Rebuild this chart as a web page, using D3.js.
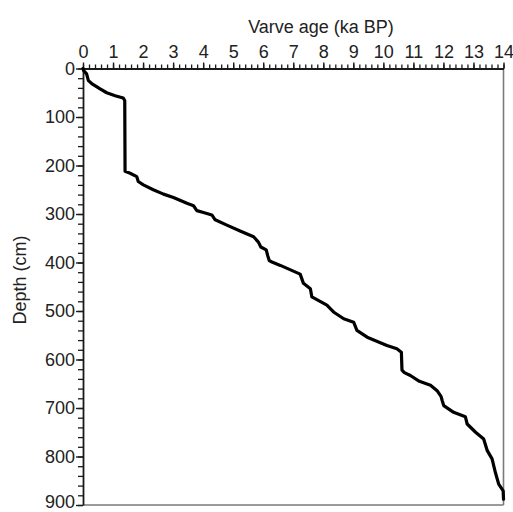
<!DOCTYPE html>
<html>
<head>
<meta charset="utf-8">
<script src="https://cdn.jsdelivr.net/npm/d3@7"></script>
<style>
  html, body { margin: 0; padding: 0; background: #fff; }
  text { font-family: Arial, "Liberation Sans", sans-serif; }
</style>
</head>
<body>
<svg id="chart" width="513" height="512"></svg>
<script>
// ---- data ----
const ages = [0, 0.02, 0.12, 0.18, 0.29, 0.57, 0.79, 1.07, 1.34, 1.39, 1.40, 1.57, 1.79, 1.84, 2.01, 2.34, 2.68, 3.01, 3.46, 3.68, 3.79, 4.01, 4.29, 4.40, 4.79, 5.23, 5.68, 5.84, 5.92, 6.10, 6.15, 6.20, 6.29, 6.57, 7.23, 7.34, 7.57, 7.62, 8.12, 8.34, 8.68, 9.01, 9.12, 9.46, 10.12, 10.45, 10.60, 10.62, 10.70, 10.90, 11.20, 11.57, 11.80, 11.92, 11.96, 12.01, 12.34, 12.73, 12.79, 13.07, 13.34, 13.46, 13.62, 13.73, 13.84, 13.99, 14.0];
const depths = [0, 4, 11, 25, 31, 42, 50, 56, 61, 66, 212, 216, 223, 233, 240, 250, 259, 266, 278, 283, 293, 297, 302, 312, 323, 335, 347, 358, 368, 374, 386, 396, 399, 406, 424, 443, 454, 471, 488, 502, 516, 523, 540, 554, 571, 578, 585, 622, 627, 633, 645, 653, 665, 676, 685, 695, 709, 718, 733, 750, 764, 788, 805, 833, 857, 871, 888];
const xTickLabels = [0,1,2,3,4,5,6,7,8,9,10,11,12,13,14];
const yTickLabels = [0,100,200,300,400,500,600,700,800,900];
const xTitle = "Varve age (ka BP)";
const yTitle = "Depth (cm)";

// ---- layout ----
const svg = d3.select("#chart");
const mLeft = 83, mRight = 503.5, mTop = 68.5, mBottom = 505;
const x = d3.scaleLinear().domain([0, 14]).range([mLeft, mRight]);
const y = d3.scaleLinear().domain([0, 900]).range([mTop, mBottom]);
const axisColor = "#1a1a1a";
const textColor = "#222";

// frame (right and bottom in gray)
svg.append("line").attr("x1", mRight).attr("x2", mRight).attr("y1", mTop).attr("y2", mBottom)
  .attr("stroke", "#7a7a7a").attr("stroke-width", 1.6);
svg.append("line").attr("x1", mLeft).attr("x2", mRight).attr("y1", mBottom).attr("y2", mBottom)
  .attr("stroke", "#7a7a7a").attr("stroke-width", 1.6);

// minor x ticks
const xMinor = d3.range(0, 14.001, 0.2).map(v => +v.toFixed(1));
svg.append("g").attr("transform", `translate(0,${mTop})`)
  .call(d3.axisTop(x).tickValues(xMinor).tickSize(4).tickFormat(""))
  .call(g => g.select(".domain").remove())
  .call(g => g.selectAll("line").attr("stroke", axisColor).attr("stroke-width", 1.3));
// major x ticks
svg.append("g").attr("transform", `translate(0,${mTop})`)
  .call(d3.axisTop(x).tickValues(xTickLabels).tickSize(6).tickSizeOuter(0).tickPadding(5).tickFormat(d3.format("d")))
  .call(g => g.select(".domain").attr("stroke", axisColor).attr("stroke-width", 1.8))
  .call(g => g.selectAll("line").attr("stroke", axisColor).attr("stroke-width", 1.4))
  .call(g => g.selectAll("text").attr("fill", textColor).attr("font-size", 18));

// minor y ticks
const yMinor = d3.range(0, 901, 20);
svg.append("g").attr("transform", `translate(${mLeft},0)`)
  .call(d3.axisLeft(y).tickValues(yMinor).tickSize(5).tickFormat(""))
  .call(g => g.select(".domain").remove())
  .call(g => g.selectAll("line").attr("stroke", axisColor).attr("stroke-width", 1.3));
// major y ticks
svg.append("g").attr("transform", `translate(${mLeft},0)`)
  .call(d3.axisLeft(y).tickValues(yTickLabels).tickSize(7).tickSizeOuter(0).tickPadding(1).tickFormat(d3.format("d")))
  .call(g => g.select(".domain").attr("stroke", axisColor).attr("stroke-width", 1.8))
  .call(g => g.selectAll("line").attr("stroke", axisColor).attr("stroke-width", 1.4))
  .call(g => g.selectAll("text").attr("fill", textColor).attr("font-size", 18))
  .call(g => g.selectAll(".tick").filter(d => d === 900).select("text").attr("dy", "0.15em"));

// titles
svg.append("text").attr("x", 321).attr("y", 33).attr("text-anchor", "middle")
  .attr("font-size", 18).attr("fill", textColor).text(xTitle);
svg.append("text").attr("transform", "translate(26,280) rotate(-90)").attr("text-anchor", "middle")
  .attr("font-size", 18).attr("fill", textColor).text(yTitle);

// curve
const pts = ages.map((a, i) => [a, depths[i]]);
const line = d3.line().x(d => x(d[0])).y(d => y(d[1]));
svg.append("path").datum(pts).attr("d", line)
  .attr("fill", "none").attr("stroke", "#000").attr("stroke-width", 3.2)
  .attr("stroke-linejoin", "round").attr("stroke-linecap", "round");
</script>
</body>
</html>
